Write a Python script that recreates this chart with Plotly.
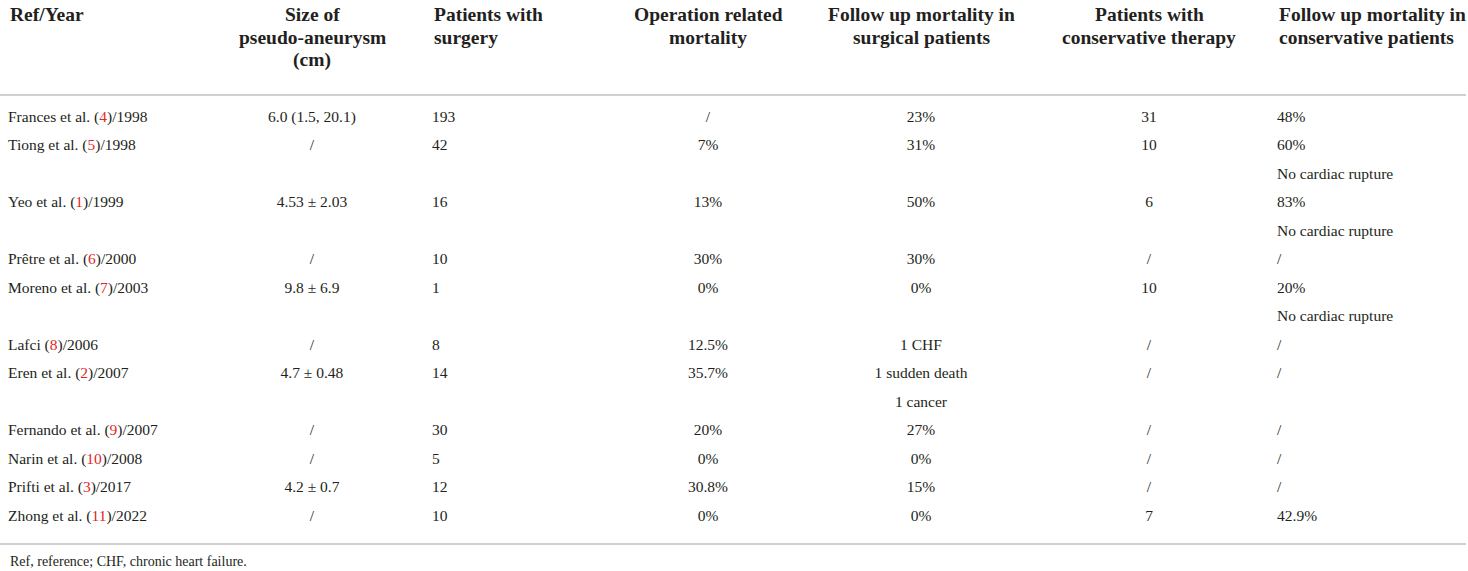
import plotly.graph_objects as go

# ---------------- data ----------------
authors = ["Frances et al.", "Tiong et al.", "Yeo et al.", "Prêtre et al.", "Moreno et al.",
           "Lafci", "Eren et al.", "Fernando et al.", "Narin et al.", "Prifti et al.", "Zhong et al."]
refs = ["4", "5", "1", "6", "7", "8", "2", "9", "10", "3", "11"]
years = ["1998", "1998", "1999", "2000", "2003", "2006", "2007", "2007", "2008", "2017", "2022"]
size_pa = ["6.0 (1.5, 20.1)", "/", "4.53 ± 2.03", "/", "9.8 ± 6.9", "/", "4.7 ± 0.48",
           "/", "/", "4.2 ± 0.7", "/"]
pts_surgery = ["193", "42", "16", "10", "1", "8", "14", "30", "5", "12", "10"]
op_mortality = ["/", "7%", "13%", "30%", "0%", "12.5%", "35.7%", "20%", "0%", "30.8%", "0%"]
fu_surgical = [["23%"], ["31%"], ["50%"], ["30%"], ["0%"], ["1 CHF"], ["1 sudden death", "1 cancer"],
               ["27%"], ["0%"], ["15%"], ["0%"]]
pts_conservative = ["31", "10", "6", "/", "10", "/", "/", "/", "/", "/", "7"]
fu_conservative = [["48%"], ["60%", "No cardiac rupture"], ["83%", "No cardiac rupture"], ["/"],
                   ["20%", "No cardiac rupture"], ["/"], ["/"], ["/"], ["/"], ["/"], ["42.9%"]]

headers = [["Ref/Year"], ["Size of", "pseudo-aneurysm", "(cm)"], ["Patients with", "surgery"],
           ["Operation related", "mortality"], ["Follow up mortality in", "surgical patients"],
           ["Patients with", "conservative therapy"], ["Follow up mortality in", "conservative patients"]]
footnote = "Ref, reference; CHF, chronic heart failure."

# ---------------- layout constants ----------------
W, H = 1468, 571
FONT = "Liberation Serif"
TXT = "#231f20"
RED = "#e4261f"
col_x = [8, 312, 432, 708, 921, 1149, 1277]
col_align = ["left", "center", "left", "center", "center", "center", "left"]
first_y = 118
row_h = 28.5
head_y0 = 14
head_h = 23

# compute line index of each study
line_idx = []
cur = 0
for i in range(len(authors)):
    line_idx.append(cur)
    cur += max(len(fu_surgical[i]), len(fu_conservative[i]))


def ypix(k):
    return first_y + k * row_h


fig = go.Figure()


def add_col(ci, xs_lines, ys_lines):
    pos = "middle right" if col_align[ci] == "left" else "middle center"
    fig.add_trace(go.Scatter(
        x=[col_x[ci]] * len(xs_lines), y=ys_lines, text=xs_lines, mode="text",
        textposition=pos, textfont=dict(family=FONT, size=15.5, color=TXT),
        hoverinfo="skip", showlegend=False, cliponaxis=False))


col1 = [f"{a} (<span style='color:{RED}'>{r}</span>)/{y}" for a, r, y in zip(authors, refs, years)]
ys = [ypix(k) for k in line_idx]
add_col(0, col1, ys)
add_col(1, size_pa, ys)
add_col(2, pts_surgery, ys)
add_col(3, op_mortality, ys)
add_col(5, pts_conservative, ys)

t5, y5, t7, y7 = [], [], [], []
for i, k in enumerate(line_idx):
    for j, t in enumerate(fu_surgical[i]):
        t5.append(t); y5.append(ypix(k + j))
    for j, t in enumerate(fu_conservative[i]):
        t7.append(t); y7.append(ypix(k + j))
add_col(4, t5, y5)
add_col(6, t7, y7)

for ci, lines in enumerate(headers):
    for j, h in enumerate(lines):
        fig.add_annotation(x=col_x[ci], y=head_y0 + j * head_h, xref="x", yref="y", text=h,
                           showarrow=False, xanchor=col_align[ci], yanchor="middle",
                           font=dict(family=FONT, size=19.5, color=TXT, weight="bold"))

fig.add_annotation(x=8, y=561, xref="x", yref="y", text=footnote, showarrow=False,
                   xanchor="left", yanchor="middle", font=dict(family=FONT, size=14, color=TXT))

for yl in [95, 544]:
    fig.add_shape(type="line", x0=0, x1=1466, y0=yl, y1=yl, xref="x", yref="y",
                  line=dict(color="#d0d0d0", width=2))

fig.update_layout(
    width=W, height=H, margin=dict(l=0, r=0, t=0, b=0),
    paper_bgcolor="white", plot_bgcolor="white",
    xaxis=dict(range=[0, W], visible=False, fixedrange=True),
    yaxis=dict(range=[H, 0], visible=False, fixedrange=True),
)

fig.write_html("out.html", config={"displayModeBar": False},
               post_script="document.body.style.margin='0';document.body.style.overflow='hidden';")
